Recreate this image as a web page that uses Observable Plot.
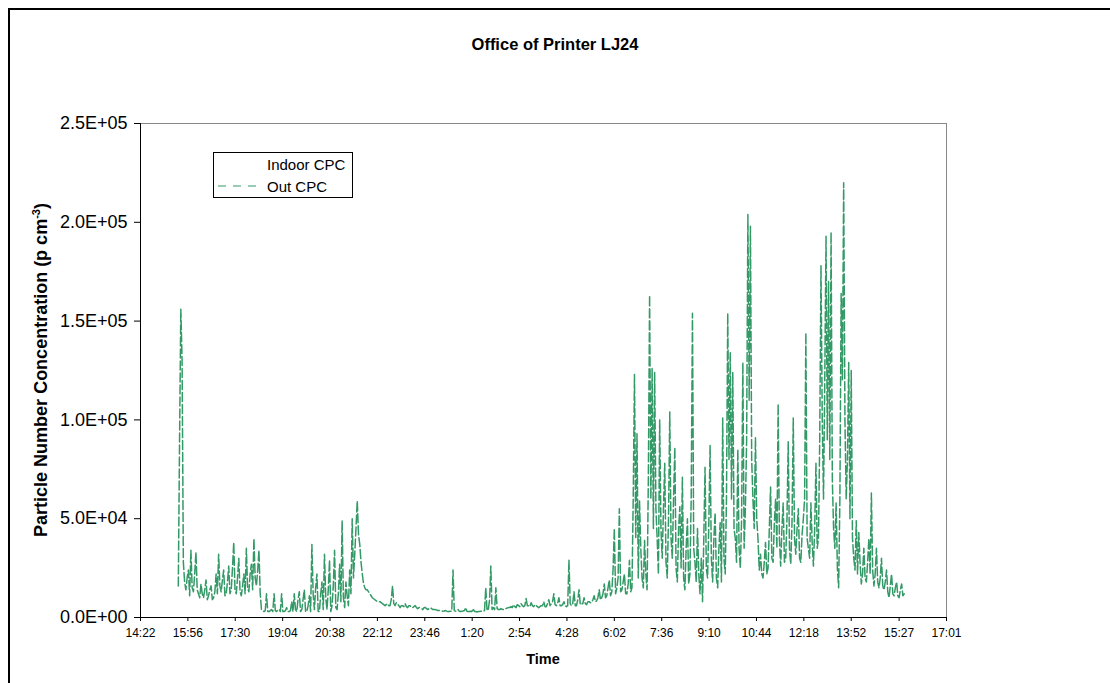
<!DOCTYPE html>
<html><head><meta charset="utf-8">
<script src="https://cdn.jsdelivr.net/npm/d3@7"></script>
<script src="https://cdn.jsdelivr.net/npm/@observablehq/plot@0.6"></script>
<style>
body{margin:0;width:1110px;height:683px;overflow:hidden;background:#fff;font-family:"Liberation Sans",Arial,sans-serif;position:relative}
#chart{position:absolute;left:0;top:0}
#frame{position:absolute;left:8px;top:8px;width:1200px;height:800px;border:2px solid #000;pointer-events:none}
#title{position:absolute;left:0;width:1110px;top:35px;text-align:center;font-weight:bold;font-size:16.5px}
#ylabel{position:absolute;left:41px;top:370px;transform:translate(-50%,-50%) rotate(-90deg);white-space:nowrap;font-weight:bold;font-size:18px}
#ylabel sup{font-size:11px}
#xlabel{position:absolute;left:543px;top:659px;transform:translate(-50%,-50%);font-weight:bold;font-size:14.5px}
#legend{position:absolute;left:213px;top:152px;width:138px;height:44px;border:1px solid #000;background:#fff;font-size:15px}
#legend .row{position:absolute;left:0;height:20px;display:flex;align-items:center}
#legend svg{display:block}
#legend span{position:absolute;left:53px;white-space:nowrap}
</style>
</head><body>
<div id="chart"></div>
<div id="title">Office of Printer LJ24</div>
<div id="ylabel">Particle Number Concentration (p cm<sup>-3</sup>)</div>
<div id="xlabel">Time</div>
<div id="legend"></div>
<div id="frame"></div>
<script>
const seriesNames = ["Indoor CPC", "Out CPC"];
const seriesColors = ["#ffffff", "#339966"];
const xTickLabels = ["14:22","15:56","17:30","19:04","20:38","22:12","23:46","1:20","2:54","4:28","6:02","7:36","9:10","10:44","12:18","13:52","15:27","17:01"];
const yTicks = [0, 50000, 100000, 150000, 200000, 250000];
const yTickLabels = ["0.0E+00","5.0E+04","1.0E+05","1.5E+05","2.0E+05","2.5E+05"];
const outStartTime = "15:37";
const outStepMin = 2.5;
const outCPC = [
16000,90000,156000,130000,28000,18000,14000,20000,24000,11000,34000,15000,13000,22000,33000,14000,12000,10000,17000,12000,
10000,14000,19000,9000,11000,14000,16000,9000,10000,13000,22000,12000,32000,16000,13000,19000,24000,11000,12000,18000,
26000,12000,14000,25000,38000,14000,12000,20000,30000,13000,11000,16000,22000,12000,35000,15000,13000,22000,27000,14000,
40000,20000,16000,24000,34000,12000,4000,3500,3000,3500,12000,3000,3000,3500,4000,3000,12000,3500,3000,4000,
4000,3000,12000,3000,3000,3500,5000,3000,3000,3500,8000,3000,12000,4000,3000,9000,13000,3000,4000,9000,
14000,3000,3000,6000,11000,3000,37000,12000,4000,15000,22000,3000,3000,12000,18000,4000,32000,10000,4000,14000,
29000,3000,6000,16000,34000,5000,4000,12000,27000,8000,49000,10000,5000,18000,11000,6000,24000,12000,50000,20000,
32000,45000,59000,42000,37000,28000,22000,17000,15000,14000,14000,13000,12000,11000,10000,9500,9000,8500,8000,8000,
8000,7500,7000,6500,6000,6500,7000,6000,6000,9000,16000,7000,6000,7500,7000,6000,5000,6000,6000,5500,
7000,5500,5000,6000,6000,5000,5000,5500,6000,5000,4500,5000,5000,4500,4000,5000,5000,4500,4000,4500,
5000,4500,4000,4000,4000,3800,3500,3500,3500,3300,3200,3300,3500,3200,3000,3000,3200,3200,24000,3500,
3200,3200,4000,3200,3000,3200,3300,3500,5000,3200,3000,3000,3200,3000,4500,3000,3000,2800,3000,3000,
3200,3000,3300,3500,15000,3500,4000,9000,26000,4000,5000,4000,15000,4500,4000,4000,4500,4200,4000,4500,
4500,4800,5000,5000,5500,5000,6500,5500,5000,6500,6000,5500,7000,6000,5500,6000,9600,6000,6000,5500,
7500,6000,5500,6500,6000,5500,5000,5500,6000,6000,8000,5500,5500,7000,9000,6000,7000,8000,12000,6500,
6000,7000,10000,6000,6000,6500,8000,6000,5500,6000,29000,7000,6000,7000,13000,6000,6000,9000,14000,6500,
7000,7000,10000,7000,6500,8000,8000,7500,7500,9000,11000,8000,8500,10000,14000,9000,10000,12000,17000,10000,
11000,15000,19000,11000,13000,24000,45000,12000,15000,20000,55000,13000,14000,18000,22000,12000,12000,17000,29000,13000,
15000,60000,123000,40000,93000,20000,59000,35000,20000,15000,39000,22000,14000,70000,163000,60000,126000,45000,124000,55000,
40000,22000,100000,45000,30000,55000,78000,28000,20000,50000,104000,40000,30000,60000,86000,25000,18000,45000,56000,25000,
71000,20000,14000,35000,50000,17000,22000,60000,154000,35000,28000,18000,45000,22000,12000,30000,8000,40000,76000,25000,
20000,48000,87000,30000,18000,40000,53000,20000,15000,35000,48000,18000,101000,30000,22000,60000,154000,80000,134000,60000,
124000,45000,40000,28000,85000,35000,25000,50000,129000,35000,55000,90000,204000,110000,198000,80000,60000,45000,91000,50000,
40000,24000,32000,22000,20000,28000,38000,22000,25000,45000,66000,30000,28000,48000,60000,35000,108000,40000,26000,45000,
58000,28000,30000,50000,89000,35000,27000,48000,101000,40000,32000,45000,55000,30000,28000,42000,50000,60000,144000,40000,
35000,30000,58000,38000,26000,45000,78000,35000,40000,90000,178000,100000,60000,120000,193000,90000,170000,80000,195000,70000,
45000,35000,58000,25000,15000,60000,164000,120000,220000,100000,60000,80000,129000,50000,125000,40000,30000,24000,49000,22000,
43000,28000,17000,22000,35000,20000,18000,28000,40000,22000,63000,24000,16000,22000,35000,18000,15000,20000,30000,16000,
14000,18000,24000,13000,10000,16000,22000,12000,11000,15000,18000,11000,10000,14000,17000,11000,12000
];

// clock labels -> minutes elapsed since the first label, rolling over midnight in sequence
const clock = s => { const [h, m] = s.split(":").map(Number); return h * 60 + m; };
const elapsed = labels => {
  let day = 0, prev = -1;
  const base = clock(labels[0]);
  return labels.map(s => { const c = clock(s); if (c < prev) day += 1440; prev = c; return c + day - base; });
};
const xTicks = elapsed(xTickLabels);
const t0 = clock(outStartTime) - clock(xTickLabels[0]);
const data = outCPC.map((v, i) => ({t: t0 + i * outStepMin, v}));

const chart = Plot.plot({
  width: 1110, height: 683,
  marginLeft: 140, marginRight: 164, marginTop: 123, marginBottom: 66,
  style: {background: "transparent", color: "black", fontFamily: "'Liberation Sans', Arial, sans-serif"},
  x: {domain: [0, xTicks[xTicks.length - 1]]},
  y: {domain: [0, 250000]},
  marks: [
    Plot.frame({stroke: "#888"}),
    Plot.line(data, {x: "t", y: "v", stroke: seriesColors[1], strokeWidth: 1.5, strokeDasharray: "9,3"}),
    Plot.ruleX([0], {stroke: "black"}),
    Plot.ruleY([0], {stroke: "black"}),
    Plot.axisY({ticks: yTicks, tickFormat: d => yTickLabels[yTicks.indexOf(d)], tickSize: 6, tickPadding: 7, fontSize: 18, label: null}),
    Plot.axisX({ticks: xTicks, tickFormat: d => xTickLabels[xTicks.indexOf(d)], tickSize: 4, tickPadding: 7, fontSize: 12, label: null})
  ]
});
document.getElementById("chart").appendChild(chart);

const legend = document.getElementById("legend");
seriesNames.forEach((name, i) => {
  const row = document.createElement("div");
  row.className = "row";
  row.style.top = (i === 0 ? 1 : 23) + "px";
  row.style.width = "138px";
  row.innerHTML = `<svg width="50" height="20"><line x1="4" x2="44" y1="10" y2="10" stroke="${seriesColors[i]}" stroke-width="1" ${i === 1 ? 'stroke-dasharray="8,7"' : ''}/></svg><span>${name}</span>`;
  legend.appendChild(row);
});
</script>
</body></html>
